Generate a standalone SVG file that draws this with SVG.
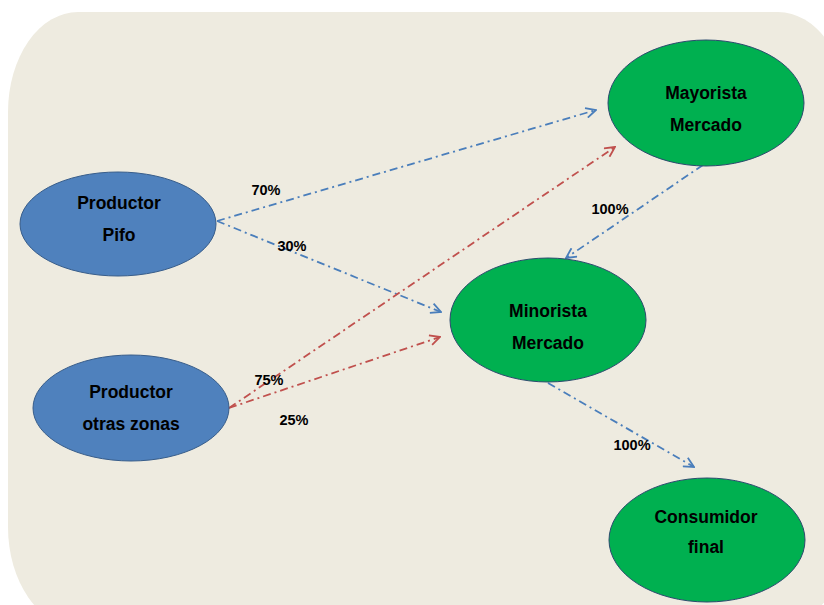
<svg xmlns="http://www.w3.org/2000/svg" width="824" height="605" viewBox="0 0 824 605">
<style>
.bg{fill:#EEEBE0}
.blue{fill:#4F81BD;stroke:#385D8A;stroke-width:1}
.green{fill:#00B050;stroke:#2C4A6E;stroke-width:1}
.nt{font-family:"Liberation Sans",Arial,sans-serif;font-weight:bold;font-size:17.5px;fill:#000;text-anchor:middle}
.lb{font-family:"Liberation Sans",Arial,sans-serif;font-weight:bold;font-size:14.5px;fill:#000;text-anchor:middle}
.cb{fill:none;stroke:#4A7EBB;stroke-width:1.8;stroke-dasharray:8 4 2 4}
.cr{fill:none;stroke:#C0504D;stroke-width:1.8;stroke-dasharray:8 4 2 4}
</style>
<defs>
<marker id="ab" viewBox="0 0 12 12" refX="11" refY="6" markerWidth="12" markerHeight="12" markerUnits="userSpaceOnUse" orient="auto">
<path d="M1,1 L11,6 L1,11" fill="none" stroke="#4A7EBB" stroke-width="1.8"/>
</marker>
<marker id="ar" viewBox="0 0 12 12" refX="11" refY="6" markerWidth="12" markerHeight="12" markerUnits="userSpaceOnUse" orient="auto">
<path d="M1,1 L11,6 L1,11" fill="none" stroke="#C0504D" stroke-width="1.8"/>
</marker>
</defs>
<rect class="bg" x="8" y="12" width="840" height="615" rx="70" ry="100"/>
<g id="connectors">
<line class="cb" x1="217" y1="221" x2="596" y2="110" marker-end="url(#ab)"/>
<line class="cb" x1="217" y1="221" x2="441" y2="312" marker-end="url(#ab)"/>
<line class="cr" x1="229" y1="408" x2="615" y2="147" marker-end="url(#ar)"/>
<line class="cr" x1="229" y1="408" x2="440" y2="337" marker-end="url(#ar)"/>
<line class="cb" x1="703" y1="165" x2="566" y2="258" marker-end="url(#ab)"/>
<line class="cb" x1="548" y1="383" x2="694" y2="467" marker-end="url(#ab)"/>
<text class="lb" x="266" y="195">70%</text>
<text class="lb" x="292" y="251">30%</text>
<text class="lb" x="269" y="385">75%</text>
<text class="lb" x="294" y="425">25%</text>
<text class="lb" x="610" y="214">100%</text>
<text class="lb" x="632" y="450">100%</text>
</g>
<g id="pifo">
<ellipse class="blue" cx="118" cy="224" rx="98" ry="52"/>
<text class="nt" x="119" y="209">Productor</text>
<text class="nt" x="119" y="241">Pifo</text>
</g>
<g id="otras">
<ellipse class="blue" cx="131" cy="408" rx="98" ry="53"/>
<text class="nt" x="131" y="398">Productor</text>
<text class="nt" x="131" y="430">otras zonas</text>
</g>
<g id="mayorista">
<ellipse class="green" cx="706" cy="103" rx="98" ry="63"/>
<text class="nt" x="706" y="99">Mayorista</text>
<text class="nt" x="706" y="131">Mercado</text>
</g>
<g id="minorista">
<ellipse class="green" cx="548" cy="320" rx="98" ry="62"/>
<text class="nt" x="548" y="317">Minorista</text>
<text class="nt" x="548" y="349">Mercado</text>
</g>
<g id="consumidor">
<ellipse class="green" cx="707" cy="540" rx="98" ry="62"/>
<text class="nt" x="706" y="523">Consumidor</text>
<text class="nt" x="706" y="553">final</text>
</g>
</svg>
